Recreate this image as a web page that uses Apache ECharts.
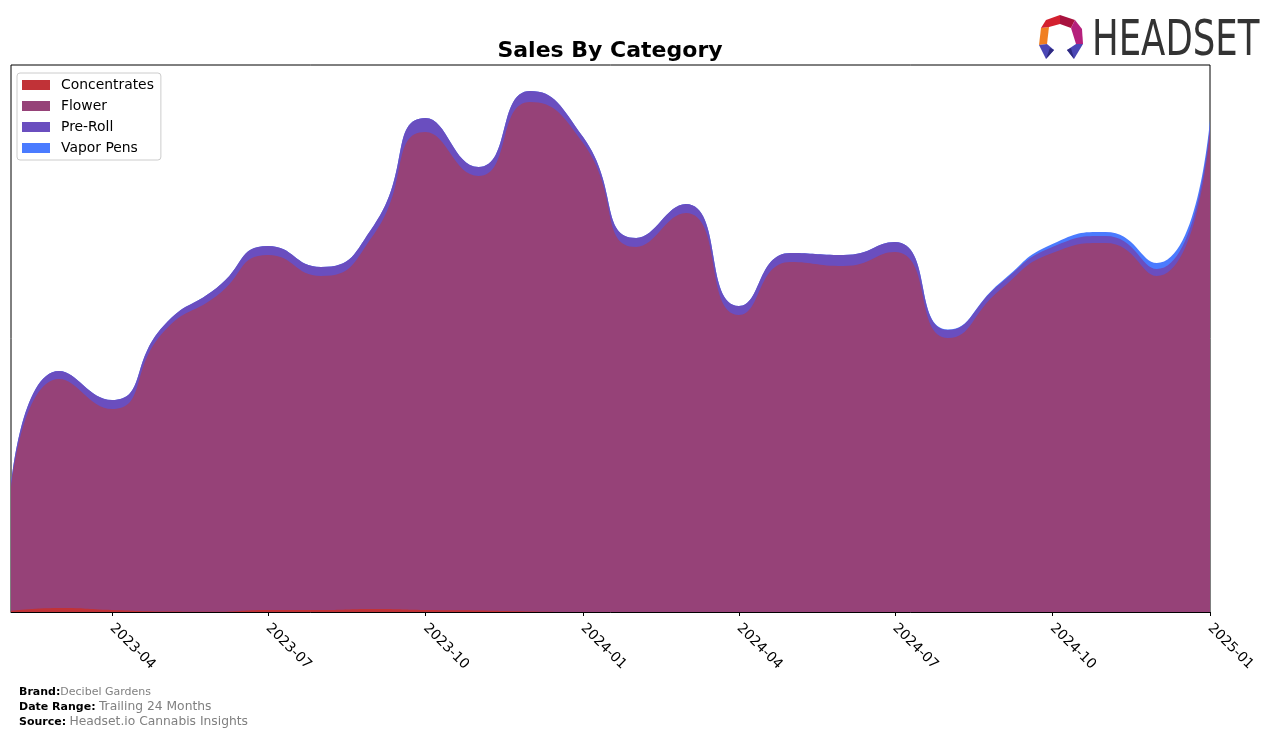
<!DOCTYPE html>
<html>
<head>
<meta charset="utf-8">
<script src="https://cdn.jsdelivr.net/npm/echarts@6/dist/echarts.min.js"></script>
<style>
  html, body { margin: 0; padding: 0; background: #fff; }
  #chart { width: 1276px; height: 739px; }
</style>
</head>
<body>
<div id="chart"></div>
<script>
// Monthly categories (first of month)
const months = ['2023-02','2023-03','2023-04','2023-05','2023-06','2023-07','2023-08','2023-09','2023-10','2023-11','2023-12',
  '2024-01','2024-02','2024-03','2024-04','2024-05','2024-06','2024-07','2024-08','2024-09','2024-10','2024-11','2024-12','2025-01'];
const tickLabels = ['2023-04','2023-07','2023-10','2024-01','2024-04','2024-07','2024-10','2025-01'];
const seriesNames = ['Concentrates', 'Flower', 'Pre-Roll', 'Vapor Pens'];
// Sales values (relative units)
const concentrates = [1, 4, 2, 0.5, 0.3, 2, 2, 3, 2, 1.5, 0.5, 0, 0, 0, 0, 0, 0, 0, 0, 0, 0, 0, 0, 0];
const flower = [122, 229, 201, 279.5, 315.7, 355, 334, 375, 478, 434.5, 509.5, 469, 365, 399, 297, 350, 346, 360, 274, 323, 359, 369, 336, 480];
const preRoll = [3, 8, 9, 6, 8, 9, 9, 9, 14, 9, 11, 6, 9, 9, 9, 9, 11, 10, 8, 6, 6, 7, 7, 7];
const vaporPens = [0, 0, 0, 0, 0, 0, 0, 0, 0, 0, 0, 0, 0, 0, 0, 0, 0, 0, 0.5, 1, 3, 4, 6, 5];
const colors = ['#c13237', '#964278', '#6a4ebf', '#4a7bff'];

const chart = echarts.init(document.getElementById('chart'), null, { renderer: 'canvas' });
const FONT = 'DejaVu Sans';
// x positions: days since the first month (true calendar spacing)
const DAY = 86400000;
const toDays = (ym) => { const p = ym.split('-'); return Math.round((Date.UTC(+p[0], +p[1] - 1, 1) - Date.UTC(2023, 1, 1)) / DAY); };
const monthX = months.map(toDays);
const tickX = tickLabels.map(toDays);
const labelFor = (v) => { const k = tickX.indexOf(Math.round(v)); return k >= 0 ? tickLabels[k] : ''; };

// stacked (cumulative) layers, bottom to top
const layers = [concentrates, flower, preRoll, vaporPens];
const cumulative = [];
layers.forEach((arr, li) => {
  cumulative.push(arr.map((v, i) => v + (li > 0 ? cumulative[li - 1][i] : 0)));
});

function mkSeries(li) {
  const color = colors[li];
  return {
    name: seriesNames[li], type: 'line',
    data: cumulative[li].map((v, i) => [monthX[i], v]),
    smooth: 0.55, showSymbol: false, symbol: 'none',
    lineStyle: { width: 0, color: color },
    itemStyle: { color: color },
    areaStyle: { color: color, opacity: 1, origin: 'start' },
    emphasis: { disabled: true },
    silent: true
  };
}

chart.setOption({
  animation: false,
  backgroundColor: '#ffffff',
  color: colors,
  title: {
    text: 'Sales By Category', left: 605, top: 35, textAlign: 'center',
    textStyle: { fontFamily: FONT, fontSize: 22, fontWeight: 'bold', color: '#000' }
  },
  legend: {
    orient: 'vertical', left: 17, top: 73,
    data: seriesNames,
    icon: 'rect', itemWidth: 28, itemHeight: 10, itemGap: 7,
    padding: [5, 7, 5, 5],
    borderColor: '#cccccc', borderWidth: 1, borderRadius: 3, backgroundColor: '#fff',
    textStyle: { fontFamily: FONT, fontSize: 13.9, color: '#000', padding: [0, 0, 0, 6], lineHeight: 14 },
    selectedMode: false
  },
  grid: {
    left: 11, right: 66, top: 65, bottom: 127,
    show: true, borderColor: '#000', borderWidth: 1, backgroundColor: 'transparent'
  },
  xAxis: {
    type: 'value', min: monthX[0], max: monthX[monthX.length - 1],
    axisLine: { show: true, onZero: false, lineStyle: { color: '#000', width: 1 } },
    axisTick: { show: true, customValues: tickX, length: 4, lineStyle: { color: '#000' } },
    axisLabel: {
      customValues: tickX, formatter: (v) => labelFor(v), rotate: -45, margin: 14,
      fontFamily: FONT, fontSize: 13.9, color: '#000'
    },
    splitLine: { show: false }
  },
  yAxis: {
    type: 'value', min: 0, max: 547,
    axisLine: { show: false }, axisTick: { show: false }, axisLabel: { show: false }, splitLine: { show: false }
  },
  // draw the top of the stack first so lower layers paint over it
  series: [mkSeries(3), mkSeries(2), mkSeries(1), mkSeries(0)],
  graphic: [
    // footer
    { type: 'text', left: 19, top: 687, style: { text: '{b|Brand:}{g|Decibel Gardens}', rich: {
        b: { fontFamily: FONT, fontSize: 11, fontWeight: 'bold', fill: '#000' },
        g: { fontFamily: FONT, fontSize: 11, fill: '#808080' } } } },
    { type: 'text', left: 19, top: 701, style: { text: '{b|Date Range:} {g|Trailing 24 Months}', rich: {
        b: { fontFamily: FONT, fontSize: 11, fontWeight: 'bold', fill: '#000' },
        g: { fontFamily: FONT, fontSize: 12.3, fill: '#808080' } } } },
    { type: 'text', left: 19, top: 716, style: { text: '{b|Source:} {g|Headset.io Cannabis Insights}', rich: {
        b: { fontFamily: FONT, fontSize: 11, fontWeight: 'bold', fill: '#000' },
        g: { fontFamily: FONT, fontSize: 12.3, fill: '#808080' } } } },
    // logo icon
    { type: 'polygon', shape: { points: [[1039,45],[1041,28],[1049,27],[1047,44]] }, style: { fill: '#f07f22' } },
    { type: 'polygon', shape: { points: [[1041,28],[1046,20],[1060,15],[1060,24],[1049,27]] }, style: { fill: '#d3202f' } },
    { type: 'polygon', shape: { points: [[1060,15],[1075,20],[1071,28],[1060,24]] }, style: { fill: '#a8123f' } },
    { type: 'polygon', shape: { points: [[1075,20],[1082,29],[1083,44],[1076,44],[1071,28]] }, style: { fill: '#b5207c' } },
    { type: 'polygon', shape: { points: [[1039,45],[1047,44],[1054,50],[1046,59]] }, style: { fill: '#4b47b5' } },
    { type: 'polygon', shape: { points: [[1046,59],[1054,50],[1050,48]] }, style: { fill: '#2e2a80' } },
    { type: 'polygon', shape: { points: [[1076,44],[1083,44],[1074,59],[1067,50]] }, style: { fill: '#4b47b5' } },
    { type: 'polygon', shape: { points: [[1074,59],[1067,50],[1071,48]] }, style: { fill: '#2e2a80' } },
    // logo text
    { type: 'text', x: 1092, y: 17, scaleX: 0.71, style: { text: 'HEADSET', fontFamily: FONT, fontSize: 50, fill: '#333333' } }
  ]
});
</script>
</body>
</html>
